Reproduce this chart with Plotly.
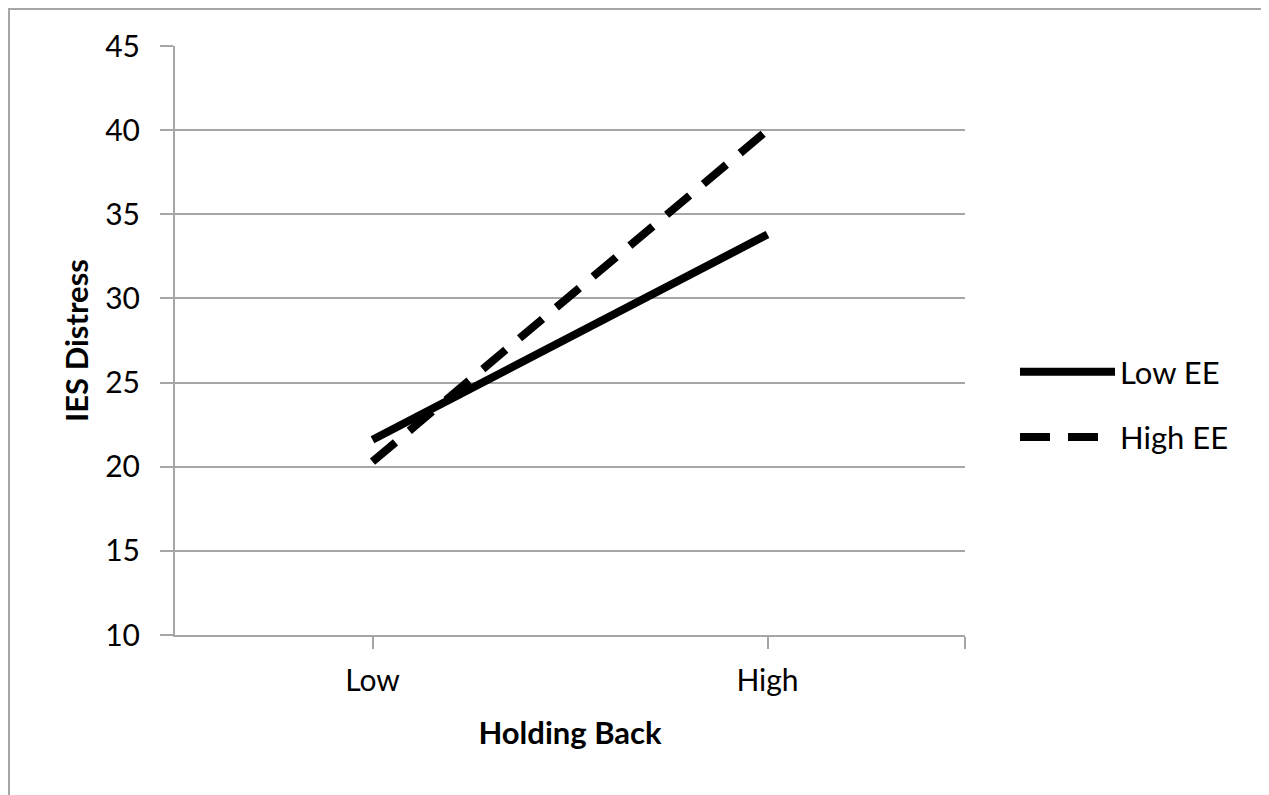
import plotly.graph_objects as go

categories = ["Low", "High"]
low_ee = [21.6, 33.8]
high_ee = [20.3, 40.0]
series_names = ["Low EE", "High EE"]
y_ticks = [10, 15, 20, 25, 30, 35, 40, 45]

W, H = 1269, 795
OFF = 8  # page body margin
L, R, T, B = 175 - OFF, 965 - OFF, 46 - OFF, 635 - OFF
grid = "#A6A6A6"
font = "Lato, 'Open Sans', sans-serif"

xpos = list(range(len(categories)))

fig = go.Figure()
fig.add_trace(go.Scatter(x=xpos, y=low_ee, mode="lines", name=series_names[0], legendgroup="a",
                         line=dict(color="black", width=8)))
fig.add_trace(go.Scatter(x=xpos, y=high_ee, mode="lines", name=series_names[1], legendgroup="b",
                         line=dict(color="black", width=8, dash="30px,18px")))

px_to_paper_x = lambda p: (p - OFF - L) / (R - L)
px_to_paper_y = lambda p: (B - (p - OFF)) / (B - T)

fig.add_shape(type="rect", xref="paper", yref="paper",
              x0=px_to_paper_x(9), x1=px_to_paper_x(1263),
              y0=px_to_paper_y(830), y1=px_to_paper_y(9),
              line=dict(color=grid, width=2), fillcolor="rgba(0,0,0,0)", layer="below")

fig.update_layout(
    width=W, height=H,
    margin=dict(l=L, r=W - R, t=T, b=H - B, pad=0),
    paper_bgcolor="white", plot_bgcolor="white",
    font=dict(family=font, color="black"),
    showlegend=True,
    legend=dict(x=px_to_paper_x(1015), y=px_to_paper_y(345), xanchor="left", yanchor="top",
                font=dict(size=31, family=font), itemwidth=95, traceorder="grouped",
                tracegroupgap=22, bgcolor="rgba(0,0,0,0)"),
    xaxis=dict(range=[-0.5, 1.5], tickvals=xpos + [1.5], ticktext=categories + [""],
               showgrid=False, zeroline=False, showline=True, linecolor=grid, linewidth=2,
               ticks="outside", ticklen=12, tickwidth=2, tickcolor=grid,
               tickfont=dict(size=30, family=font), ticklabelstandoff=6,
               title=dict(text="<b>Holding Back</b>", font=dict(size=31, family=font), standoff=26)),
    yaxis=dict(range=[10, 45], tickvals=y_ticks, showgrid=True, gridcolor=grid, gridwidth=2,
               zeroline=False, showline=True, linecolor=grid, linewidth=2,
               ticks="outside", ticklen=13, tickwidth=2, tickcolor=grid,
               tickfont=dict(size=30, family=font), ticklabelstandoff=14,
               title=dict(text="<b>IES Distress</b>", font=dict(size=31, family=font), standoff=7)),
)

fig.write_html("out.html")
